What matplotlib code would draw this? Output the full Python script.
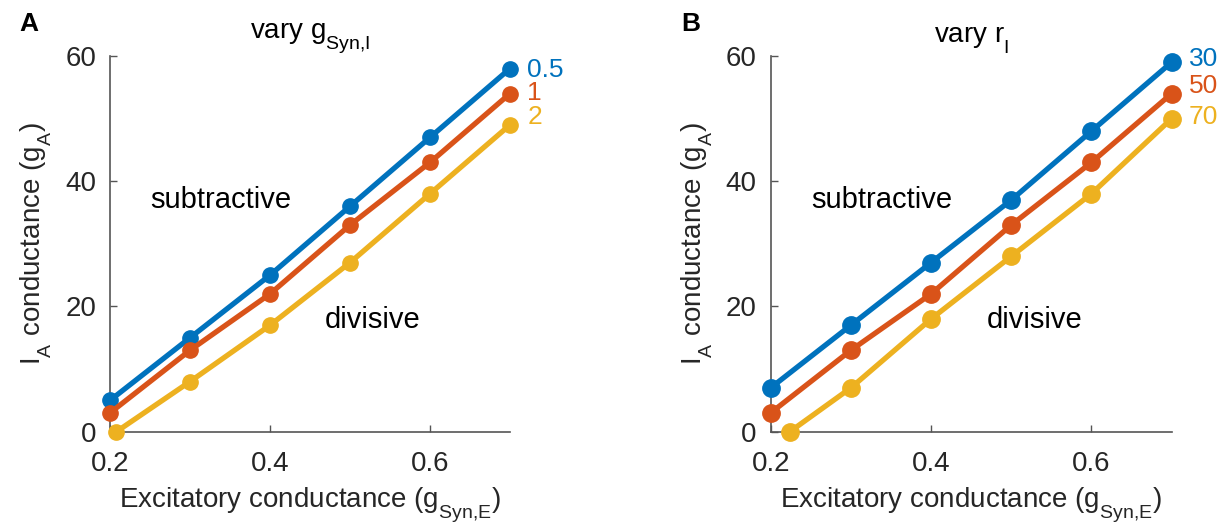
import matplotlib.pyplot as plt
import matplotlib._mathtext as mt

plt.rcParams['font.family'] = ['Liberation Sans', 'DejaVu Sans']
plt.rcParams['mathtext.fontset'] = 'custom'
plt.rcParams['mathtext.rm'] = 'Liberation Sans'
plt.rcParams['mathtext.it'] = 'Liberation Sans'
# MATLAB-style subscripts sit lower than mathtext's default
mt.FontConstantsBase.sub1 = 0.75

# excitatory conductance values
x_vals = [0.2, 0.3, 0.4, 0.5, 0.6, 0.7]

# panel A: vary g_Syn,I
a_x_yellow = [0.208, 0.3, 0.4, 0.5, 0.6, 0.7]
a_blue = [5, 15, 25, 36, 47, 58]
a_orange = [3, 13, 22, 33, 43, 54]
a_yellow = [0, 8, 17, 27, 38, 49]
a_labels = ['0.5', '1', '2']
a_label_y = [57.8, 54.1, 50.3]

# panel B: vary r_I
b_x_yellow = [0.224, 0.3, 0.4, 0.5, 0.6, 0.7]
b_blue = [7, 17, 27, 37, 48, 59]
b_orange = [3, 13, 22, 33, 43, 54]
b_yellow = [0, 7, 18, 28, 38, 50]
b_labels = ['30', '50', '70']
b_label_y = [59.5, 55.2, 50.3]

colors = ['#0072BD', '#D95319', '#EDB120']
axcol = '#262626'

fig = plt.figure(figsize=(12.25, 5.31), dpi=100)
axA = fig.add_axes([0.0898, 0.187, 0.3265, 0.7075])
axB = fig.add_axes([0.6291, 0.187, 0.3273, 0.7075])


def draw(ax, xs, ys, labels, label_y, title, ms):
    for x, y, c in zip(xs, ys, colors):
        ax.plot(x, y, '-o', color=c, lw=3.8, ms=ms, clip_on=False, zorder=3)
    for lab, ly, c in zip(labels, label_y, colors):
        ax.text(0.7215, ly, lab, color=c, fontsize=19, va='center', ha='left')
    ax.set_xlim(0.2, 0.7)
    ax.set_ylim(0, 60)
    ax.set_xticks([0.2, 0.4, 0.6])
    ax.set_xticklabels(['0.2', '0.4', '0.6'])
    ax.set_yticks([0, 20, 40, 60])
    for s in ['top', 'right']:
        ax.spines[s].set_visible(False)
    for s in ['left', 'bottom']:
        ax.spines[s].set_color('#555555')
        ax.spines[s].set_linewidth(1.2)
    ax.tick_params(direction='in', length=5, width=1.0, color='#555555',
                   labelsize=20, labelcolor=axcol)
    ax.tick_params(axis='x', pad=14)
    ax.tick_params(axis='y', pad=10)
    ax.set_xlabel(r'Excitatory conductance (g$_{\mathregular{Syn{,}E}}$)',
                  fontsize=20, color=axcol, labelpad=6)
    ax.set_ylabel(r'I$_{\mathregular{A}}$ conductance (g$_{\mathregular{A}}$)',
                  fontsize=20, color=axcol, labelpad=8)
    ax.set_title(title, fontsize=20, color='black', pad=5)
    ax.text(0.25, 37, 'subtractive', fontsize=21, va='center', ha='left')
    ax.text(0.469, 17.8, 'divisive', fontsize=21, va='center', ha='left')


draw(axA, [x_vals, x_vals, a_x_yellow], [a_blue, a_orange, a_yellow],
     a_labels, a_label_y, r'vary g$_{\mathregular{Syn{,}I}}$', 11)
draw(axB, [x_vals, x_vals, b_x_yellow], [b_blue, b_orange, b_yellow],
     b_labels, b_label_y, r'vary r$_{\mathregular{I}}$', 12.5)

fig.text(0.016, 0.955, 'A', fontsize=19, fontweight='bold', va='center')
fig.text(0.556, 0.955, 'B', fontsize=19, fontweight='bold', va='center')

fig.savefig('out.png', dpi=100)
